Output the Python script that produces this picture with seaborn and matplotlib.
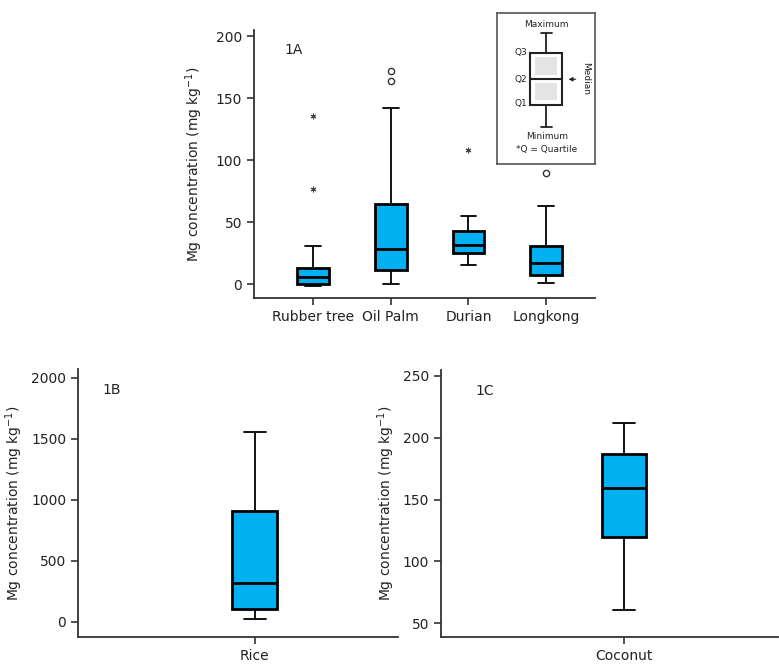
import pandas as pd
import seaborn as sns
import matplotlib.pyplot as plt
from matplotlib.patches import Rectangle

# Five-number summaries (min, Q1, median, Q3, max)
crops_a = ["Rubber tree", "Oil Palm", "Durian", "Longkong"]
whisk_low_a = [-1.5, 0.0, 15.9, 1.3]
q1_a = [0.5, 11.8, 25.3, 7.8]
median_a = [5.9, 28.8, 31.5, 17.2]
q3_a = [13.2, 65.0, 42.7, 30.6]
whisk_high_a = [30.6, 142.0, 55.0, 63.0]

# Points beyond the whiskers (circle = outlier, asterisk = extreme)
out_crops = ["Rubber tree", "Rubber tree", "Oil Palm", "Oil Palm", "Durian", "Longkong"]
out_values = [136, 77, 172, 164, 108.6, 89.8]
out_kind = ["extreme", "extreme", "outlier", "outlier", "extreme", "outlier"]

crops_b = ["Rice"]
rice_summary = [19, 101, 317, 910, 1552]

crops_c = ["Coconut"]
coconut_summary = [61, 119.5, 159.6, 186.5, 211.8]

BOX_BLUE = "#00B0F0"
INK = "#222222"
YLABEL = "Mg concentration (mg kg$^{-1}$)"
FS = 10


def long_frame(names, columns):
    rows = []
    for i, name in enumerate(names):
        for col in columns:
            rows.append((name, col[i]))
    return pd.DataFrame(rows, columns=["crop", "value"])


def draw_box(ax, df, order, width):
    sns.boxplot(data=df, x="crop", y="value", order=order, ax=ax,
                width=width, whis=(0, 100), showfliers=False,
                color=BOX_BLUE, saturation=1, linecolor="black",
                boxprops=dict(linewidth=2.0),
                medianprops=dict(linewidth=2.0, color="black"),
                whiskerprops=dict(linewidth=1.3),
                capprops=dict(linewidth=1.3))
    sns.despine(ax=ax)
    for side in ("left", "bottom"):
        ax.spines[side].set_color("#333333")
        ax.spines[side].set_linewidth(1.3)
    ax.tick_params(length=5, width=1.2, color="#333333",
                   labelsize=FS, labelcolor=INK)
    ax.set_xlabel("")
    ax.set_ylabel(YLABEL, fontsize=FS, color=INK)


sns.set_style("ticks")
plt.rcParams["font.family"] = ["DejaVu Sans"]

fig = plt.figure(figsize=(7.79, 6.65), dpi=100)

# ---- 1A
ax_a = fig.add_axes([0.326, 0.552, 0.438, 0.403])
df_a = long_frame(crops_a, [whisk_low_a, q1_a, median_a, q3_a, whisk_high_a])
draw_box(ax_a, df_a, crops_a, 0.41)

df_out = pd.DataFrame({"crop": out_crops, "value": out_values, "kind": out_kind})
sns.stripplot(data=df_out[df_out["kind"] == "outlier"], x="crop", y="value",
              order=crops_a, jitter=False, ax=ax_a, marker="o", size=4.5,
              color="white", edgecolor="#333333", linewidth=1.0)
sns.stripplot(data=df_out[df_out["kind"] == "extreme"], x="crop", y="value",
              order=crops_a, jitter=False, ax=ax_a, marker=(6, 2, 0), size=3.5,
              color="#444444", linewidth=0.8)
ax_a.set_xlabel("")
ax_a.set_ylabel(YLABEL, fontsize=FS, color=INK)
ax_a.set_xlim(-0.76, 3.63)
ax_a.set_ylim(-11, 205)
ax_a.set_yticks([0, 50, 100, 150, 200])
ax_a.yaxis.set_label_coords(-0.144, 0.5)
ax_a.text(0.115, 0.925, "1A", transform=ax_a.transAxes, ha="center",
          va="center", fontsize=FS, color=INK)

# ---- 1B
ax_b = fig.add_axes([0.100, 0.042, 0.411, 0.403])
df_b = long_frame(crops_b, [[v] for v in rice_summary])
draw_box(ax_b, df_b, crops_b, 0.4)
ax_b.set_xlim(-1.58, 1.28)
ax_b.set_ylim(-125, 2071)
ax_b.set_yticks([0, 500, 1000, 1500, 2000])
ax_b.yaxis.set_label_coords(-0.165, 0.5)
ax_b.text(0.106, 0.922, "1B", transform=ax_b.transAxes, ha="center",
          va="center", fontsize=FS, color=INK)

# ---- 1C
ax_c = fig.add_axes([0.566, 0.042, 0.433, 0.4015])
df_c = long_frame(crops_c, [[v] for v in coconut_summary])
draw_box(ax_c, df_c, crops_c, 0.4)
ax_c.set_xlim(-1.66, 1.40)
ax_c.set_ylim(38.9, 254.6)
ax_c.set_yticks([50, 100, 150, 200, 250])
ax_c.yaxis.set_label_coords(-0.13, 0.5)
ax_c.text(0.13, 0.922, "1C", transform=ax_c.transAxes, ha="center",
          va="center", fontsize=FS, color=INK)

# ---- schematic key in 1A
key = fig.add_axes([0.638, 0.753, 0.126, 0.227])
key.set_xlim(0, 1)
key.set_ylim(0, 1)
key.set_xticks([])
key.set_yticks([])
for sp in key.spines.values():
    sp.set_color("#555555")
    sp.set_linewidth(1.2)
key.add_patch(Rectangle((0.337, 0.391), 0.326, 0.344, facecolor="white",
                        edgecolor="#222222", linewidth=1.5))
key.add_patch(Rectangle((0.388, 0.589), 0.224, 0.120, facecolor="#e4e4e4",
                        edgecolor="none"))
key.add_patch(Rectangle((0.388, 0.424), 0.224, 0.112, facecolor="#e4e4e4",
                        edgecolor="none"))
key.plot([0.337, 0.663], [0.563, 0.563], color="#222222", lw=1.5)
key.plot([0.5, 0.5], [0.735, 0.868], color="#222222", lw=1.3)
key.plot([0.5, 0.5], [0.245, 0.391], color="#222222", lw=1.3)
key.plot([0.449, 0.561], [0.868, 0.868], color="#222222", lw=1.3)
key.plot([0.449, 0.561], [0.245, 0.245], color="#222222", lw=1.3)
key.annotate("", xy=(0.70, 0.563), xytext=(0.83, 0.563),
             arrowprops=dict(arrowstyle="-|>", color="#222222", lw=0.8,
                             mutation_scale=6))
kw = dict(fontsize=6.5, color=INK)
key.text(0.5, 0.927, "Maximum", ha="center", va="center", **kw)
key.text(0.306, 0.742, "Q3", ha="right", va="center", **kw)
key.text(0.306, 0.563, "Q2", ha="right", va="center", **kw)
key.text(0.306, 0.404, "Q1", ha="right", va="center", **kw)
key.text(0.90, 0.57, "Median", ha="center", va="center", rotation=-90, **kw)
key.text(0.51, 0.185, "Minimum", ha="center", va="center", **kw)
key.text(0.51, 0.10, "*Q = Quartile", ha="center", va="center", **kw)

fig.savefig("out.png", dpi=100)
